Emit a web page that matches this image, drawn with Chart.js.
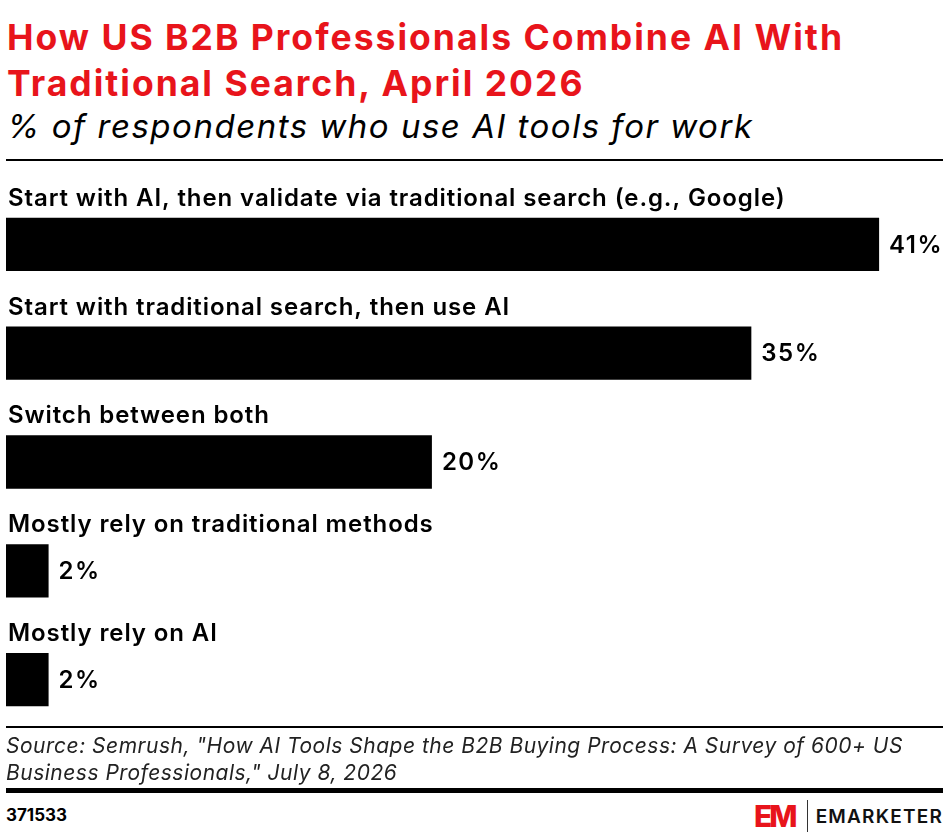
<!DOCTYPE html>
<html lang="en">
<head>
  <meta charset="UTF-8" />
  <title>How US B2B Professionals Combine AI With Traditional Search</title>
  <script src="https://cdn.jsdelivr.net/npm/chart.js"></script>
  <style>
    body {
      margin: 0;
      width: 948px;
      height: 838px;
      background: #fff;
      font-family: Inter, "Open Sans", sans-serif;
      position: relative;
      overflow: hidden;
      color: #000;
    }
    .titulo {
      position: absolute;
      left: 7px;
      top: 15px;
      font-size: 35.5px;
      font-weight: 700;
      line-height: 46px;
      color: #e8141b;
      letter-spacing: 2px;
    }
    .sub {
      position: absolute;
      left: 7px;
      top: 106px;
      font-size: 33px;
      font-style: italic;
      font-weight: 400;
      letter-spacing: 1.5px;
    }
    .linha {
      position: absolute;
      left: 6px;
      width: 937px;
      background: #000;
    }
    #wrap {
      position: absolute;
      left: 0;
      top: 160px;
      width: 948px;
      height: 580px;
    }
    .fonte {
      position: absolute;
      left: 6px;
      top: 732px;
      font-size: 21px;
      font-style: italic;
      line-height: 27px;
      color: #222;
      letter-spacing: 0.5px;
    }
    .id {
      position: absolute;
      left: 6px;
      top: 805px;
      font-size: 17px;
      font-weight: 700;
    }
    .logo {
      position: absolute;
      right: 5px;
      top: 800px;
      display: flex;
      align-items: center;
    }
    .logo .em {
      color: #e8141b;
      font-size: 30px;
      font-weight: 800;
      letter-spacing: -3px;
      line-height: 30px;
    }
    .logo .sep {
      width: 1px;
      height: 32px;
      background: #333;
      margin: 0 8px 0 12px;
    }
    .logo .nome {
      font-size: 19px;
      font-weight: 600;
      letter-spacing: 1.2px;
      color: #111;
    }
  </style>
</head>
<body>
  <div class="titulo">How US B2B Professionals Combine AI With<br>Traditional Search, April 2026</div>
  <div class="sub">% of respondents who use AI tools for work</div>
  <div class="linha" style="top:159px;height:2px"></div>

  <div id="wrap"><canvas id="grafico"></canvas></div>

  <div class="linha" style="top:726px;height:2px"></div>
  <div class="fonte">Source: Semrush, "How AI Tools Shape the B2B Buying Process: A Survey of 600+ US<br>Business Professionals," July 8, 2026</div>
  <div class="linha" style="top:788px;height:5px"></div>
  <div class="id">371533</div>
  <div class="logo"><span class="em">EM</span><span class="sep"></span><span class="nome">EMARKETER</span></div>

  <script>
    const categorias = [
      'Start with AI, then validate via traditional search (e.g., Google)',
      'Start with traditional search, then use AI',
      'Switch between both',
      'Mostly rely on traditional methods',
      'Mostly rely on AI'
    ];
    const valores = [41, 35, 20, 2, 2];
    const eixoMax = 44;

    // rótulos acima das barras e valores à direita
    const rotulos = {
      id: 'rotulos',
      afterDatasetsDraw(chart) {
        const ctx = chart.ctx;
        const meta = chart.getDatasetMeta(0);
        ctx.save();
        ctx.fillStyle = '#000';
        meta.data.forEach((bar, i) => {
          const topo = bar.y - bar.height / 2;
          ctx.font = '600 24px Inter, sans-serif';
          ctx.letterSpacing = '0.9px';
          ctx.textAlign = 'left';
          ctx.textBaseline = 'alphabetic';
          ctx.fillText(categorias[i], chart.chartArea.left + 2, topo - 12);
          ctx.letterSpacing = '1.5px';
          ctx.textBaseline = 'middle';
          ctx.fillText(valores[i] + '%', bar.x + 10, bar.y + 1);
        });
        ctx.restore();
      }
    };

    new Chart(document.getElementById('grafico'), {
      type: 'bar',
      data: {
        labels: categorias,
        datasets: [{
          data: valores,
          backgroundColor: '#000',
          borderWidth: 0,
          barPercentage: 0.49,
          categoryPercentage: 1
        }]
      },
      options: {
        indexAxis: 'y',
        responsive: true,
        maintainAspectRatio: false,
        animation: false,
        layout: { padding: { left: 6, right: 5, top: 30, bottom: 6 } },
        plugins: { legend: { display: false }, tooltip: { enabled: false } },
        scales: {
          x: { min: 0, max: eixoMax, display: false },
          y: { display: false }
        }
      },
      plugins: [rotulos]
    });
  </script>
</body>
</html>
